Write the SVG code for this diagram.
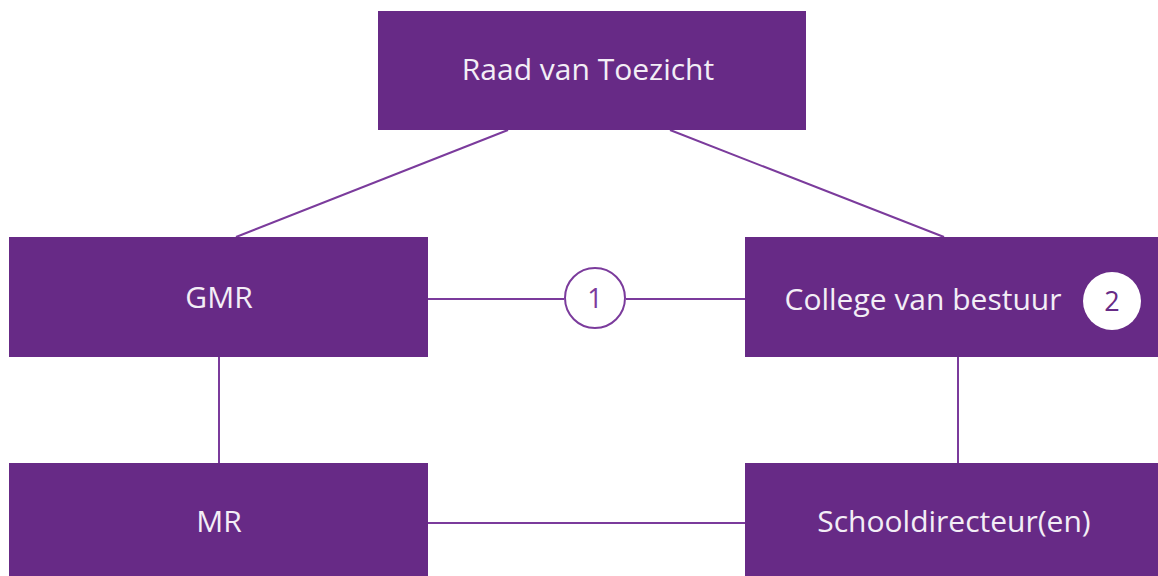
<svg xmlns="http://www.w3.org/2000/svg" width="1158" height="576" viewBox="0 0 1158 576">
<style>
.box{fill:#672a86}
.lbl{font-family:"Open Sans","Noto Sans",sans-serif;font-size:30px;fill:#f3eef6;text-anchor:middle}
.ln{stroke:#7b3b9c;stroke-width:2;fill:none}
.num{font-family:"Open Sans","Noto Sans",sans-serif;font-size:27px;text-anchor:middle}
</style>
<rect width="1158" height="576" fill="#ffffff"/>
<g id="connectors">
<line class="ln" x1="508" y1="130" x2="236" y2="237"/>
<line class="ln" x1="670" y1="130" x2="944" y2="237"/>
<line class="ln" x1="428" y1="299" x2="564" y2="299"/>
<line class="ln" x1="626" y1="299" x2="745" y2="299"/>
<line class="ln" x1="219" y1="357" x2="219" y2="463"/>
<line class="ln" x1="958" y1="357" x2="958" y2="463"/>
<line class="ln" x1="428" y1="523" x2="745" y2="523"/>
</g>
<g id="raad">
<rect class="box" x="378" y="11" width="428" height="119"/>
<text class="lbl" x="588" y="80">Raad van Toezicht</text>
</g>
<g id="gmr">
<rect class="box" x="9" y="237" width="419" height="120"/>
<text class="lbl" x="219" y="308">GMR</text>
</g>
<g id="badge1">
<circle cx="595" cy="298" r="30" fill="#ffffff" stroke="#7b3b9c" stroke-width="2"/>
<text class="num" x="595" y="308" fill="#7b3b9c">1</text>
</g>
<g id="cvb">
<rect class="box" x="745" y="237" width="413" height="120"/>
<text class="lbl" x="923" y="310">College van bestuur</text>
<circle cx="1112" cy="301" r="29" fill="#ffffff"/>
<text class="num" x="1112" y="311" fill="#672a86">2</text>
</g>
<g id="mr">
<rect class="box" x="9" y="463" width="419" height="113"/>
<text class="lbl" x="219" y="532">MR</text>
</g>
<g id="dir">
<rect class="box" x="745" y="463" width="413" height="113"/>
<text class="lbl" x="954" y="532">Schooldirecteur(en)</text>
</g>
</svg>
